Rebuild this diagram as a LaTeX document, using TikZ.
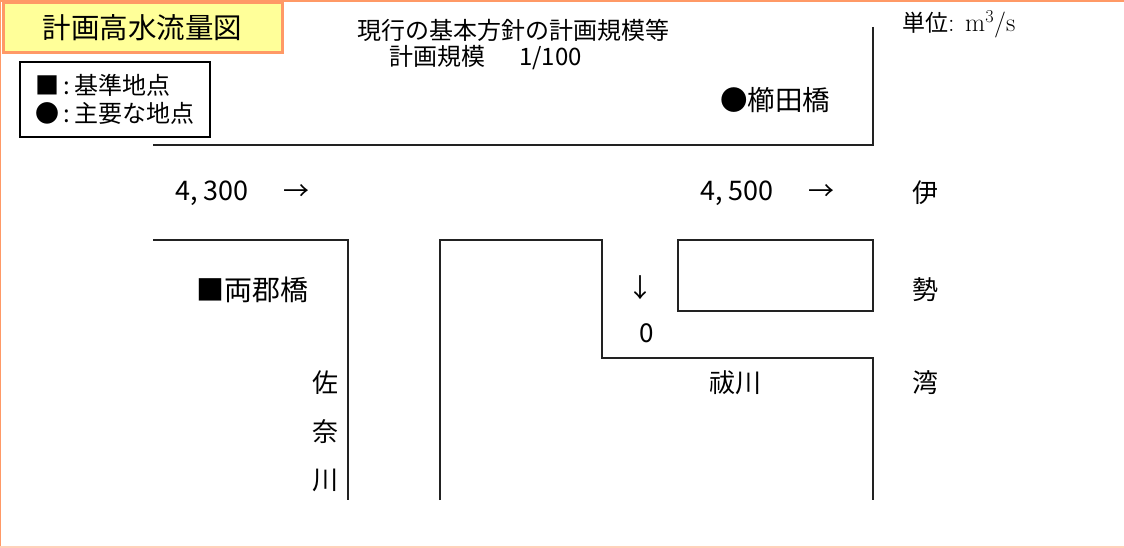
\documentclass[tikz,border=0pt]{standalone}
\usepackage{fontspec}
\newfontfamily\jpfont{Noto Sans CJK JP}
\usetikzlibrary{positioning}
\definecolor{frameorange}{HTML}{FF9966}
\definecolor{titleyellow}{HTML}{FFFF99}
\definecolor{riverline}{HTML}{222222}

\begin{document}
\begin{tikzpicture}[x=1pt,y=-1pt,
  river/.style={draw=riverline,line width=1.8pt},
  jp/.style={font=\jpfont\fontsize{#1}{#1}\selectfont,inner sep=0pt},
  jp/.default=26]

  \useasboundingbox (0,0) rectangle (1124,548);
  \draw[frameorange,line width=2pt] (0,548) -- (0,1) -- (1124,1);
  \draw[frameorange!45,line width=1.5pt] (0,547) -- (1124,547);

  % title and legend
  \node[jp=28.5, draw=frameorange, fill=titleyellow, line width=3pt,
    minimum width=279pt, minimum height=50pt, anchor=north west] (title) at (1.5,1.5) {計画高水流量図};
  \node[draw, line width=2pt, minimum width=190pt, minimum height=75pt,
    anchor=north west, align=left, font=\jpfont\fontsize{24}{28}\selectfont] (legend) at (19,61)
    {■\,:\,基準地点\\●\,:\,主要な地点};

  \node[jp=24] (policy) at (513,30) {現行の基本方針の計画規模等};
  \node[jp=24, anchor=west] (scale) at (389,58) {計画規模\hspace{34pt}1/100};
  \node[anchor=west, inner sep=0pt] (unit) at (902,24)
    {{\jpfont\fontsize{23}{23}\selectfont 単位}\fontsize{26}{26}\selectfont: m\textsuperscript{3}/s};

  % river banks
  \draw[river] (873,27) -- (873,145) -- (153,145);
  \draw[river] (153,240) -- (348,240) -- (348,500);
  \draw[river] (440,500) -- (440,240) -- (602,240) -- (602,358) -- (873,358) -- (873,500);
  \draw[river] (678,240) rectangle (873,311);

  % points and discharges
  \node[jp=27.5] (kushida) at (775,100) {●櫛田橋};
  \node[jp=28] (ryogun) at (252,290) {■両郡橋};
  \node[jp=27, anchor=west] (q4300) at (175,193) {4, 300};
  \node[jp, right=34pt of q4300] (arr4300) {→};
  \node[jp=27, anchor=west] (q4500) at (700,193) {4, 500};
  \node[jp, right=34pt of q4500] (arr4500) {→};
  \node[jp] (arr0) at (640,288) {↓};
  \node[jp] (q0) at (647,333) {0};

  % river and bay names
  \node[jp] (harai) at (735,383) {祓川};
  \node[jp] (sa) at (325,383) {佐};
  \node[jp, below of=sa, node distance=49pt] (na) {奈};
  \node[jp, below of=na, node distance=48pt] (kawa) {川};
  \node[jp] (i) at (925,193) {伊};
  \node[jp] (se) at (925,290) {勢};
  \node[jp] (wan) at (925,383) {湾};

\end{tikzpicture}
\end{document}
